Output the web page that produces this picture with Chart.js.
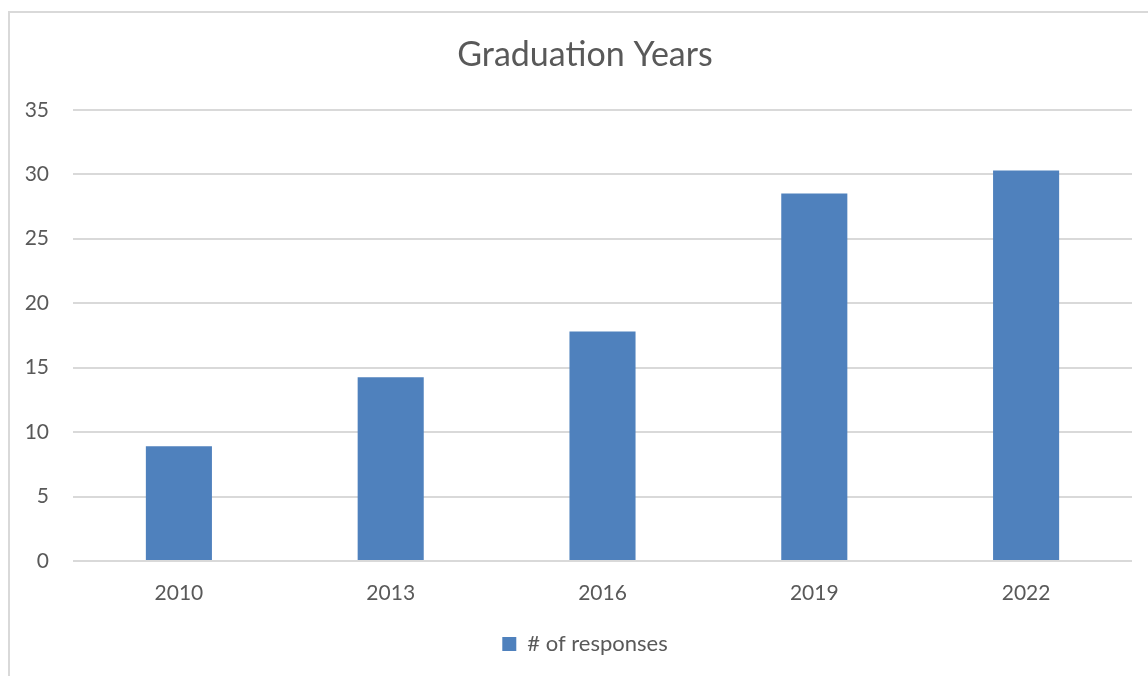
<!DOCTYPE html>
<html>
<head>
<meta charset="utf-8">
<title>Graduation Years</title>
<script src="https://cdn.jsdelivr.net/npm/chart.js@4"></script>
<style>
  html, body { margin: 0; padding: 0; background: #fff; }
  #wrap { width: 1148px; height: 676px; }
</style>
</head>
<body>
<div id="wrap"><canvas id="gradChart" width="1148" height="676"></canvas></div>
<script>
//----- Data -----//

const years = ['2010', '2013', '2016', '2019', '2022']
const responses = [8.9, 14.25, 17.8, 28.5, 30.3]
const yTicks = [0, 5, 10, 15, 20, 25, 30, 35]

//----- Frame around the chart object -----//

const framePlugin = {
  id: 'frame',
  // title and legend are centred on the whole frame, not the padded area
  afterLayout(chart) {
    [chart.titleBlock, chart.legend].forEach(box => {
      if (!box) return
      box.left += 8
      box.right += 8
    })
  },
  beforeDraw(chart) {
    const ctx = chart.ctx
    ctx.save()
    ctx.fillStyle = '#ffffff'
    ctx.fillRect(0, 0, chart.width, chart.height)
    ctx.strokeStyle = '#d9d9d9'
    ctx.lineWidth = 2
    ctx.beginPath()
    ctx.moveTo(9, chart.height)
    ctx.lineTo(9, 12)
    ctx.lineTo(chart.width, 12)
    ctx.stroke()
    ctx.restore()
  }
}

//----- Chart -----//

const grey = '#595959'
const font = 'Lato, "Open Sans", sans-serif'

new Chart(document.getElementById('gradChart'), {
  type: 'bar',
  data: {
    labels: years,
    datasets: [{
      label: '# of responses',
      data: responses,
      backgroundColor: '#4f81bd',
      borderWidth: 0,
      categoryPercentage: 1,
      barPercentage: 0.312
    }]
  },
  options: {
    responsive: false,
    animation: false,
    layout: { padding: { left: 22, right: 16, top: 0, bottom: 11 } },
    plugins: {
      title: {
        display: true,
        text: 'Graduation Years',
        color: grey,
        font: { family: font, size: 34, weight: 'normal' },
        padding: { top: 35, bottom: 34 }
      },
      legend: {
        position: 'bottom',
        labels: {
          color: grey,
          font: { family: font, size: 22 },
          boxWidth: 14,
          boxHeight: 14,
          padding: 12
        }
      },
      tooltip: { enabled: false }
    },
    scales: {
      x: {
        grid: { display: false },
        border: { display: false },
        ticks: {
          color: grey,
          font: { family: font, size: 21 },
          padding: 12
        },
        afterFit(scale) { scale.height = 60 }
      },
      y: {
        min: 0,
        max: 35,
        afterBuildTicks(scale) { scale.ticks = yTicks.map(v => ({ value: v })) },
        grid: { color: '#d9d9d9', lineWidth: 2, drawTicks: false },
        border: { display: false },
        ticks: {
          color: grey,
          font: { family: font, size: 21 },
          padding: 24
        },
        afterFit(scale) { scale.width = 51 }
      }
    }
  },
  plugins: [framePlugin]
})
</script>
</body>
</html>
